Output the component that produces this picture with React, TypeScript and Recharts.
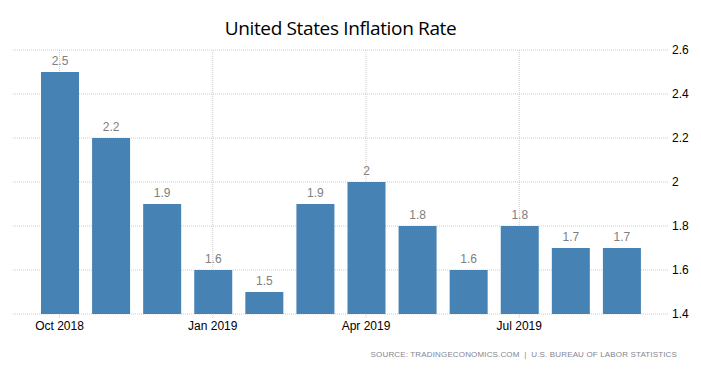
import { BarChart, Bar, XAxis, YAxis, CartesianGrid, LabelList } from 'recharts'

const months = [
  'Oct 2018', 'Nov 2018', 'Dec 2018', 'Jan 2019', 'Feb 2019', 'Mar 2019',
  'Apr 2019', 'May 2019', 'Jun 2019', 'Jul 2019', 'Aug 2019', 'Sep 2019',
]
const inflation = [2.5, 2.2, 1.9, 1.6, 1.5, 1.9, 2.0, 1.8, 1.6, 1.8, 1.7, 1.7]
const yTicks = [1.4, 1.6, 1.8, 2.0, 2.2, 2.4, 2.6]
// month positions (index) that get a label and a vertical grid line
const markedIdx = [0, 3, 6, 9]

const data = months.map((m, i) => ({ month: m, idx: i, value: inflation[i] }))

const gridColor = '#cccccc'
const font = '"Liberation Sans", Arial, sans-serif'
const xPad = { left: 21, right: 21 }

export default function App() {
  return (
    <div style={{ position: 'absolute', left: 0, top: 0, width: 701, height: 374, background: '#fff' }}>
      <div style={{
        position: 'absolute', left: 13, width: 655, top: 15, textAlign: 'center',
        fontFamily: '"Open Sans", sans-serif', fontSize: 19, color: '#000', letterSpacing: -0.35,
      }}>
        United States Inflation Rate
      </div>
      <BarChart width={701} height={374} data={data} margin={{ top: 50, right: 0, left: 13, bottom: 40 }}>
        <CartesianGrid xAxisId="grid" syncWithTicks stroke={gridColor} strokeDasharray="1 1" />
        <XAxis
          xAxisId="grid"
          type="number"
          dataKey="idx"
          domain={[-0.5, months.length - 0.5]}
          ticks={markedIdx}
          padding={xPad}
          hide
        />
        <XAxis
          dataKey="month"
          interval={2}
          padding={xPad}
          axisLine={false}
          tickSize={4}
          tickMargin={3}
          tickLine={{ stroke: gridColor, strokeDasharray: '1 1' }}
          tick={{ fontSize: 12, fill: '#000', fontFamily: font }}
          height={20}
        />
        <YAxis
          orientation="right"
          domain={[1.4, 2.6]}
          ticks={yTicks}
          axisLine={false}
          tickLine={false}
          tickSize={0}
          tickMargin={4}
          width={33}
          tick={{ fontSize: 12, fill: '#000', fontFamily: font, textAnchor: 'start' }}
        />
        <Bar dataKey="value" fill="#4682B4" barSize={38} isAnimationActive={false}>
          <LabelList dataKey="value" position="top" offset={7}
            style={{ fontSize: 12, fill: '#808080', fontFamily: font }} />
        </Bar>
      </BarChart>
      <div style={{
        position: 'absolute', right: 24, top: 350, fontFamily: font,
        fontSize: 8, letterSpacing: 0.15, color: '#85858f', whiteSpace: 'nowrap',
      }}>
        SOURCE: TRADINGECONOMICS.COM&nbsp;&nbsp;|&nbsp;&nbsp;U.S. BUREAU OF LABOR STATISTICS
      </div>
    </div>
  )
}
